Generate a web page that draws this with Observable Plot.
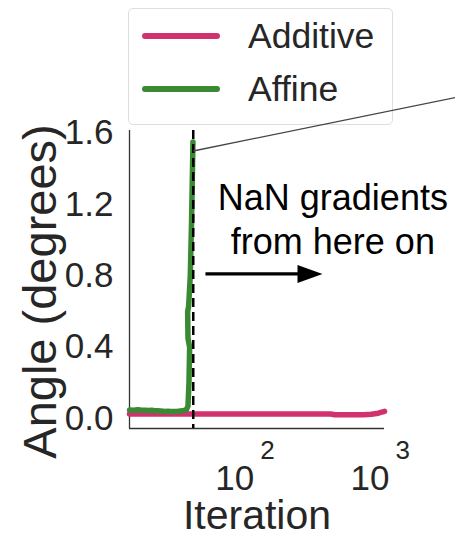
<!DOCTYPE html>
<html><head><meta charset="utf-8">
<script src="https://cdn.jsdelivr.net/npm/d3@7"></script>
<script src="https://cdn.jsdelivr.net/npm/@observablehq/plot@0.6"></script>
<style>
body{margin:0;background:#fff;font-family:"Liberation Sans",Arial,sans-serif;}
#wrap{position:relative;width:455px;height:534px;overflow:hidden;background:#fff;}
#legend{position:absolute;left:128px;top:8px;width:263px;height:115px;border:1px solid #dedede;border-radius:5px;background:#fff;}
.row{position:absolute;left:0;height:0;}
.swatch{position:absolute;left:13px;width:78px;height:6px;border-radius:3px;top:-3px;}
.lab{position:absolute;left:119px;top:-21px;font-size:35.5px;line-height:42px;color:#262626;white-space:nowrap;}
#chart{position:absolute;left:0;top:0;}
</style>
</head><body>
<div id="wrap">
  <div id="legend"></div>
  <div id="chart"></div>
</div>
<script>
// ---- data ----
const seriesNames = ["Additive", "Affine"];
const seriesColors = ["#d1326f", "#3a8a33"];

const additiveIter  = [13, 20, 40, 100, 200, 400, 430, 600, 700, 800, 900, 1000];
const additiveAngle = [0.025, 0.025, 0.025, 0.025, 0.025, 0.025, 0.021, 0.021, 0.021, 0.024, 0.03, 0.04];

const affineIter  = [13, 14, 15, 16, 17, 18, 19, 20, 21, 22, 23, 24, 25, 26, 27, 28, 29, 30, 31, 32, 33, 34.3, 35.2, 35.8, 36.2, 35.2, 35.0, 35.6, 36.6, 37.4, 38.0, 38.3];
const affineAngle = [0.048, 0.046, 0.049, 0.046, 0.047, 0.045, 0.046, 0.044, 0.043, 0.042, 0.041, 0.040, 0.041, 0.039, 0.040, 0.039, 0.040, 0.041, 0.042, 0.043, 0.045, 0.05, 0.07, 0.2, 0.4, 0.45, 0.6, 0.63, 0.8, 1.1, 1.4, 1.55];

const yTicks = [0, 0.4, 0.8, 1.2, 1.6];
const xTicks = [100, 1000];
const xDomain = [13, 1000];
const yDomain = [-0.056, 1.615];

const nanIter = 38.5;
const annotText = ["NaN gradients", "from here on"];
const annotPos = [{x: 415, y: 1.236}, {x: 415, y: 0.985}];
const arrow = {x1: 47.4, x2: 300, tip: 348, y: 0.811};
const connector = [{x1: nanIter, y1: 1.5, x2: 3650, y2: 1.806}];

// ---- build ----
const additive = additiveIter.map((x, i) => ({x, y: additiveAngle[i]}));
const affine = affineIter.map((x, i) => ({x, y: affineAngle[i]}));

const arrowHead = {
  draw(ctx) {
    ctx.moveTo(0, 0);
    ctx.lineTo(-25, -9);
    ctx.lineTo(-25, 9);
    ctx.closePath();
  }
};

const chart = Plot.plot({
  width: 455,
  height: 534,
  marginLeft: 129,
  marginRight: 71,
  marginTop: 130,
  marginBottom: 106,
  style: {background: "transparent", fontFamily: "Liberation Sans, Arial, sans-serif", color: "#262626", fontSize: "35px"},
  x: {type: "log", domain: xDomain, axis: null},
  y: {domain: yDomain, axis: null},
  marks: [
    Plot.axisY({ticks: yTicks, tickSize: 0, tickPadding: 16, fontSize: 35, tickFormat: d3.format(".1f"), label: null}),
    Plot.ruleX([xDomain[0]], {stroke: "#333", strokeWidth: 1.3}),
    Plot.ruleY([yDomain[0]], {stroke: "#333", strokeWidth: 1.3}),
    Plot.line(additive, {x: "x", y: "y", stroke: seriesColors[0], strokeWidth: 5.5}),
    Plot.line(affine, {x: "x", y: "y", stroke: seriesColors[1], strokeWidth: 5.5, strokeLinejoin: "round"}),
    Plot.ruleX([nanIter], {stroke: "black", strokeWidth: 2.5, strokeDasharray: "9,5"}),
    Plot.link(connector, {x1: "x1", y1: "y1", x2: "x2", y2: "y2", stroke: "#444", strokeWidth: 1.3}),
    Plot.text(annotText, {x: (d, i) => annotPos[i].x, y: (d, i) => annotPos[i].y, text: d => d, fontSize: 36, fill: "black"}),
    Plot.link([arrow], {x1: "x1", x2: "x2", y1: "y", y2: "y", stroke: "black", strokeWidth: 3.3}),
    Plot.dot([arrow], {x: "tip", y: "y", symbol: arrowHead, fill: "black", stroke: "none"}),
    // x tick labels 10^n
    Plot.text(xTicks, {x: d => d, frameAnchor: "bottom", text: () => "10", textAnchor: "end", lineAnchor: "bottom", dx: 5, dy: 61, fontSize: 35, fill: "#262626"}),
    Plot.text(xTicks, {x: d => d, frameAnchor: "bottom", text: d => String(Math.round(Math.log10(d))), textAnchor: "start", lineAnchor: "bottom", dx: 11, dy: 30, fontSize: 26, fill: "#262626"}),
    // axis titles
    Plot.text(["Iteration"], {frameAnchor: "bottom", text: d => d, textAnchor: "middle", lineAnchor: "bottom", dy: 100, fontSize: 41, fill: "#262626"}),
    Plot.text(["Angle (degrees)"], {frameAnchor: "left", text: d => d, textAnchor: "middle", rotate: -90, lineAnchor: "bottom", dx: -74, dy: 12, fontSize: 47, fill: "#262626"})
  ]
});
document.getElementById("chart").appendChild(chart);

// legend
const leg = document.getElementById("legend");
seriesNames.forEach((name, i) => {
  const row = document.createElement("div");
  row.className = "row";
  row.style.top = (i === 0 ? 27 : 80) + "px";
  const sw = document.createElement("div");
  sw.className = "swatch";
  sw.style.background = seriesColors[i];
  const lab = document.createElement("div");
  lab.className = "lab";
  lab.textContent = name;
  row.appendChild(sw);
  row.appendChild(lab);
  leg.appendChild(row);
});
</script>
</body></html>
